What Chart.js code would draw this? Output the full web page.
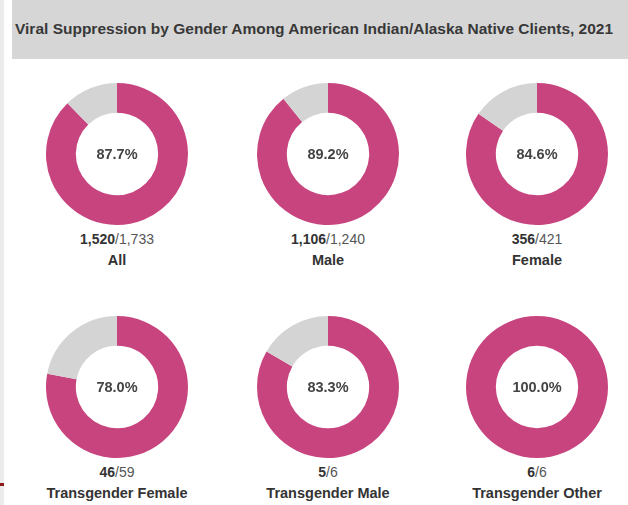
<!DOCTYPE html>
<html>
<head>
<meta charset="utf-8">
<script src="https://cdn.jsdelivr.net/npm/chart.js@4"></script>
<style>
    body {
        margin: 0;
        width: 628px;
        height: 505px;
        background: #fff;
        font-family: "Liberation Sans", Arial, sans-serif;
        position: relative;
        overflow: hidden;
    }
    .strip {
        position: absolute;
        left: 0; top: 0;
        width: 4px; height: 505px;
        background: #ececec;
    }
    .mark {
        position: absolute;
        left: 0; top: 483px;
        width: 4px; height: 3px;
        background: #8b1a1a;
    }
    .title {
        position: absolute;
        left: 12px; top: 0;
        width: 616px; height: 59px;
        background: #d6d6d6;
        color: #383838;
        font-size: 15.5px;
        font-weight: bold;
        line-height: 58px;
        padding-left: 3px;
        box-sizing: border-box;
        white-space: nowrap;
    }
    .cell {
        position: absolute;
        width: 200px;
        text-align: center;
        color: #333;
    }
    .cell canvas {
        display: block;
        margin: 0 auto;
    }
    .frac {
        font-size: 14px;
        color: #555;
        margin-top: 5px;
        line-height: 18px;
    }
    .frac b { color: #333; }
    .name {
        font-size: 14.5px;
        font-weight: bold;
        line-height: 20px;
        margin-top: 2px;
    }
</style>
</head>
<body>
<div class="strip"></div>
<div class="mark"></div>
<div class="title">Viral Suppression by Gender Among American Indian/Alaska Native Clients, 2021</div>
<div id="grid"></div>
<script>
    const categories = ['All', 'Male', 'Female', 'Transgender Female', 'Transgender Male', 'Transgender Other'];
    const suppressed = [1520, 1106, 356, 46, 5, 6];
    const totals = [1733, 1240, 421, 59, 6, 6];

    // centre of each donut on the page
    const centersX = [117, 328, 537, 117, 328, 537];
    const centersY = [154, 154, 154, 387, 387, 387];
    const size = 142;

    const centerText = {
        id: 'centerText',
        afterDraw(chart, args, opts) {
            const { ctx } = chart;
            const arc = chart.getDatasetMeta(0).data[0];
            ctx.save();
            ctx.font = 'bold 14.5px "Liberation Sans", Arial, sans-serif';
            ctx.fillStyle = '#444';
            ctx.textAlign = 'center';
            ctx.textBaseline = 'middle';
            ctx.fillText(opts.text, arc.x, arc.y + 1);
            ctx.restore();
        }
    };

    const grid = document.getElementById('grid');
    categories.forEach((name, i) => {
        const cell = document.createElement('div');
        cell.className = 'cell';
        cell.style.left = (centersX[i] - 100) + 'px';
        cell.style.top = (centersY[i] - size / 2) + 'px';
        const fmt = n => n.toLocaleString('en-US');
        cell.innerHTML = `<canvas width="${size}" height="${size}"></canvas>
            <div class="frac"><b>${fmt(suppressed[i])}</b>/${fmt(totals[i])}</div>
            <div class="name">${name}</div>`;
        grid.appendChild(cell);

        const pct = (suppressed[i] / totals[i] * 100).toFixed(1) + '%';
        new Chart(cell.querySelector('canvas'), {
            type: 'doughnut',
            data: {
                labels: ['Virally suppressed', 'Not suppressed'],
                datasets: [{
                    data: [suppressed[i], totals[i] - suppressed[i]],
                    backgroundColor: ['#c8447f', '#d4d4d4'],
                    borderWidth: 0
                }]
            },
            options: {
                responsive: false,
                animation: false,
                cutout: '58%',
                plugins: {
                    legend: { display: false },
                    tooltip: { enabled: false },
                    centerText: { text: pct }
                }
            },
            plugins: [centerText]
        });
    });
</script>
</body>
</html>
